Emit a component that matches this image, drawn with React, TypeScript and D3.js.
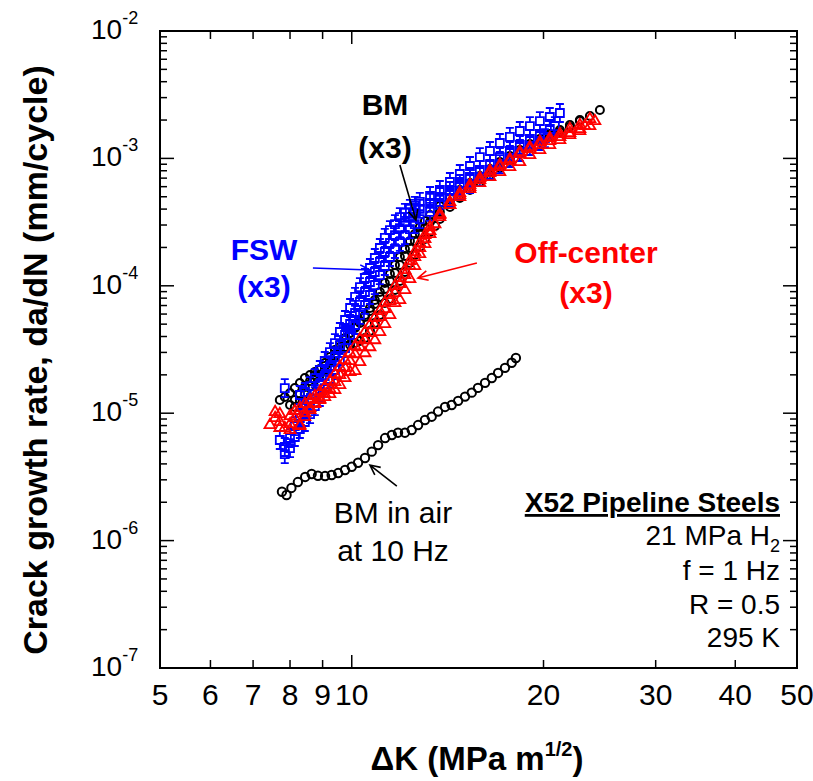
import * as d3 from "d3"

type Pt = [number, number]

// BM tested in air at 10 Hz
const bmAir: Pt[] = [
  [7.77, 2.42e-6], [7.90, 2.28e-6], [8.04, 2.59e-6], [8.23, 2.88e-6], [8.45, 3.16e-6], [8.65, 3.33e-6],
  [8.85, 3.23e-6], [9.08, 3.21e-6], [9.30, 3.27e-6], [9.52, 3.39e-6], [9.76, 3.58e-6], [10.0, 3.80e-6],
  [10.23, 4.08e-6], [10.49, 4.45e-6], [10.75, 4.99e-6], [11.0, 5.62e-6], [11.28, 6.38e-6], [11.56, 6.74e-6],
  [11.82, 7.03e-6], [12.12, 7.03e-6], [12.42, 7.38e-6], [12.71, 8.07e-6], [13.03, 8.84e-6], [13.35, 9.39e-6],
  [13.66, 1.03e-5], [14.01, 1.12e-5], [14.35, 1.16e-5], [14.69, 1.25e-5], [15.06, 1.35e-5], [15.43, 1.45e-5],
  [15.78, 1.58e-5], [16.19, 1.73e-5], [16.59, 1.89e-5], [16.97, 2.07e-5], [17.40, 2.27e-5], [17.83, 2.49e-5],
  [18.1, 2.71e-5],
]

// BM in 21 MPa H2, three tests
const bmA: Pt[] = [
  [7.71, 1.269e-5], [7.85, 1.340e-5], [8.00, 1.440e-5], [8.14, 1.576e-5], [8.29, 1.725e-5], [8.44, 1.888e-5],
  [8.60, 1.994e-5], [8.75, 2.105e-5], [8.91, 2.183e-5], [9.07, 2.346e-5], [9.24, 2.568e-5], [9.41, 2.911e-5],
  [9.58, 3.304e-5], [9.76, 3.75e-5], [9.94, 4.262e-5], [10.12, 4.749e-5], [10.30, 5.293e-5], [10.49, 5.902e-5],
  [10.68, 6.695e-5], [10.87, 7.74e-5], [11.07, 8.941e-5], [11.27, 1.051e-4], [11.48, 1.237e-4], [11.69, 1.456e-4],
  [11.90, 1.683e-4], [12.12, 1.945e-4], [12.34, 2.249e-4], [12.56, 2.548e-4], [12.79, 2.890e-4], [13.03, 3.221e-4],
  [13.27, 3.600e-4], [13.75, 4.234e-4], [14.26, 4.887e-4], [14.78, 5.65e-4], [15.33, 6.411e-4], [15.89, 7.275e-4],
  [16.48, 8.26e-4], [17.08, 9.365e-4], [17.71, 1.044e-3], [18.36, 1.164e-3], [19.04, 1.297e-3], [19.74, 1.421e-3],
  [20.46, 1.554e-3],
]
const bmB: Pt[] = [
  [8.14, 1.118e-5], [8.29, 1.246e-5], [8.44, 1.415e-5], [8.60, 1.634e-5], [8.75, 1.822e-5], [8.91, 1.994e-5],
  [9.07, 2.183e-5], [9.24, 2.476e-5], [9.41, 2.808e-5], [9.58, 3.13e-5], [9.76, 3.304e-5], [9.94, 3.426e-5],
  [10.12, 3.551e-5], [10.30, 3.683e-5], [10.49, 3.893e-5], [10.68, 4.419e-5], [10.87, 5.104e-5], [11.07, 5.902e-5],
  [11.27, 7.330e-5], [11.48, 7.882e-5], [11.69, 9.27e-5], [11.90, 1.090e-4], [12.12, 1.283e-4], [12.34, 1.510e-4],
  [12.56, 1.745e-4], [12.79, 2.017e-4], [13.03, 2.332e-4], [13.27, 2.643e-4], [13.51, 2.942e-4], [13.75, 3.340e-4],
  [14.26, 4.161e-4], [14.78, 4.887e-4], [15.33, 5.65e-4], [15.89, 6.530e-4], [16.48, 7.409e-4], [17.08, 8.409e-4],
  [17.71, 9.535e-4], [18.36, 1.083e-3], [19.04, 1.207e-3], [19.74, 1.345e-3], [20.46, 1.473e-3], [21.22, 1.612e-3],
  [22.00, 1.765e-3], [22.81, 1.965e-3], [23.65, 2.152e-3], [24.52, 2.398e-3],
]
const bmC: Pt[] = [
  [8.00, 1.159e-5], [8.14, 1.269e-5], [8.29, 1.415e-5], [8.44, 1.605e-5], [8.60, 1.789e-5], [8.75, 1.994e-5],
  [8.91, 2.223e-5], [9.07, 2.476e-5], [9.24, 2.758e-5], [9.41, 3.13e-5], [9.58, 3.488e-5], [9.76, 3.893e-5],
  [9.94, 4.262e-5], [10.12, 4.666e-5], [10.30, 5.104e-5], [10.49, 5.692e-5], [10.68, 6.344e-5], [10.87, 7.198e-5],
  [11.07, 8.173e-5], [11.27, 9.440e-5], [11.48, 1.090e-4], [11.69, 1.260e-4], [11.90, 1.456e-4], [12.12, 1.713e-4],
  [12.34, 1.981e-4], [12.56, 2.249e-4], [12.79, 2.548e-4], [13.03, 2.841e-4], [13.27, 3.164e-4], [13.75, 3.800e-4],
  [14.26, 4.470e-4], [14.78, 5.162e-4], [15.33, 5.964e-4], [15.89, 6.894e-4], [16.48, 7.822e-4], [17.08, 8.877e-4],
  [17.71, 1.007e-3], [18.36, 1.123e-3], [19.04, 1.251e-3], [19.74, 1.395e-3], [20.46, 1.527e-3], [21.22, 1.671e-3],
  [22.00, 1.828e-3], [22.81, 2.001e-3],
]

// FSW in H2, three tests
const fswA: Pt[] = [
  [7.85, 1.576e-5], [8.29, 1.390e-5], [8.44, 1.467e-5], [8.60, 1.634e-5], [8.75, 1.888e-5], [8.91, 2.183e-5],
  [9.07, 2.568e-5], [9.24, 3.019e-5], [9.41, 3.551e-5], [9.58, 4.340e-5], [9.76, 5.39e-5], [9.94, 6.695e-5],
  [10.12, 8.173e-5], [10.30, 9.779e-5], [10.49, 1.151e-4], [10.68, 1.379e-4], [10.87, 1.653e-4], [11.07, 1.981e-4],
  [11.27, 2.374e-4], [11.48, 2.74e-4], [11.69, 3.050e-4], [11.90, 3.464e-4], [12.12, 3.731e-4], [12.34, 4.012e-4],
  [12.56, 4.234e-4], [12.79, 4.552e-4], [13.27, 5.068e-4], [13.75, 5.65e-4], [14.26, 6.530e-4], [14.78, 7.542e-4],
  [15.33, 8.720e-4], [15.89, 1.025e-3], [16.48, 1.143e-3], [17.08, 1.321e-3], [17.71, 1.473e-3], [18.36, 1.641e-3],
  [19.04, 1.795e-3], [19.74, 1.965e-3], [20.46, 2.113e-3], [21.22, 2.271e-3],
]
const fswB: Pt[] = [
  [7.71, 6.16e-6], [7.85, 5.427e-6], [8.00, 6.387e-6], [8.14, 7.930e-6], [8.29, 9.165e-6], [8.44, 1.040e-5],
  [8.60, 1.202e-5], [8.75, 1.415e-5], [8.91, 1.665e-5], [9.07, 1.958e-5], [9.24, 2.305e-5], [9.41, 2.758e-5],
  [9.58, 3.426e-5], [9.76, 4.111e-5], [9.94, 5.013e-5], [10.12, 6.118e-5], [10.30, 7.465e-5], [10.49, 8.941e-5],
  [10.68, 1.071e-4], [10.87, 1.283e-4], [11.07, 1.537e-4], [11.27, 1.842e-4], [11.48, 2.169e-4], [11.69, 2.503e-4],
  [11.90, 2.841e-4], [12.12, 3.164e-4], [12.34, 3.464e-4], [12.56, 3.731e-4], [12.79, 4.012e-4], [13.27, 4.470e-4],
  [13.75, 4.978e-4], [14.26, 5.548e-4], [14.78, 6.296e-4], [15.33, 7.145e-4], [15.89, 8.11e-4], [16.48, 9.030e-4],
  [17.08, 1.025e-3], [17.71, 1.143e-3], [18.36, 1.274e-3], [19.04, 1.421e-3], [19.74, 1.554e-3], [20.46, 1.702e-3],
  [20.84, 1.795e-3],
]
const fswC: Pt[] = [
  [7.85, 4.780e-6], [8.00, 5.328e-6], [8.14, 6.505e-6], [8.29, 7.515e-6], [8.44, 8.526e-6], [8.60, 9.849e-6],
  [8.75, 1.138e-5], [8.91, 1.340e-5], [9.07, 1.576e-5], [9.24, 1.855e-5], [9.41, 2.183e-5], [9.58, 2.568e-5],
  [9.76, 3.245e-5], [9.94, 4.111e-5], [10.12, 4.924e-5], [10.30, 5.902e-5], [10.49, 7.074e-5], [10.68, 8.469e-5],
  [10.87, 1.014e-4], [11.07, 1.215e-4], [11.27, 1.430e-4], [11.48, 1.683e-4], [11.69, 1.945e-4], [11.90, 2.209e-4],
  [12.12, 2.503e-4], [12.34, 2.790e-4], [12.56, 3.050e-4], [12.79, 3.340e-4], [13.27, 3.800e-4], [13.75, 4.312e-4],
  [14.26, 4.887e-4], [14.78, 5.548e-4], [15.33, 6.296e-4], [15.89, 7.145e-4], [16.48, 8.11e-4], [17.08, 9.030e-4],
  [17.71, 1.007e-3], [18.36, 1.123e-3], [19.04, 1.251e-3], [19.74, 1.370e-3], [20.10, 1.445e-3],
]

// Off-center weld in H2, three tests
const ocA: Pt[] = [
  [7.44, 8.076e-6], [7.58, 1.021e-5], [7.71, 8.526e-6], [7.85, 7.652e-6], [8.00, 8.221e-6], [8.14, 9.165e-6],
  [8.29, 8.076e-6], [8.44, 9.335e-6], [8.60, 1.059e-5], [8.75, 1.180e-5], [8.91, 1.292e-5], [9.07, 1.415e-5],
  [9.24, 1.549e-5], [9.41, 1.757e-5], [9.58, 1.994e-5], [9.76, 2.263e-5], [9.94, 2.568e-5], [10.12, 2.911e-5],
  [10.30, 3.304e-5], [10.49, 3.75e-5], [10.68, 4.262e-5], [10.87, 4.924e-5], [11.07, 5.692e-5], [11.27, 6.578e-5],
  [11.48, 7.601e-5], [11.69, 8.779e-5], [11.90, 1.032e-4], [12.12, 1.215e-4], [12.34, 1.430e-4], [12.56, 1.683e-4],
  [12.79, 1.981e-4], [13.03, 2.332e-4], [13.27, 2.691e-4], [13.75, 3.464e-4], [14.26, 4.312e-4], [14.78, 5.162e-4],
  [15.33, 5.964e-4], [15.89, 6.77e-4], [16.48, 7.680e-4], [17.08, 8.564e-4], [17.71, 9.535e-4], [18.36, 1.123e-3],
  [19.04, 1.229e-3], [19.74, 1.345e-3], [20.46, 1.445e-3], [21.22, 1.554e-3], [22.00, 1.702e-3], [22.81, 1.828e-3],
  [23.65, 2.038e-3],
]
const ocB: Pt[] = [
  [7.71, 7.652e-6], [8.00, 7.38e-6], [8.29, 7.930e-6], [8.44, 1.003e-5], [8.60, 1.098e-5], [8.75, 1.202e-5],
  [8.91, 1.269e-5], [9.07, 1.340e-5], [9.24, 1.415e-5], [9.41, 1.521e-5], [9.58, 1.665e-5], [9.76, 1.888e-5],
  [9.94, 2.105e-5], [10.12, 2.144e-5], [10.30, 2.522e-5], [10.49, 2.964e-5], [10.68, 3.304e-5], [10.87, 3.75e-5],
  [11.07, 4.340e-5], [11.27, 5.013e-5], [11.48, 5.902e-5], [11.69, 7.330e-5], [11.90, 7.74e-5], [12.12, 9.27e-5],
  [12.34, 1.130e-4], [12.56, 1.430e-4], [12.79, 1.776e-4], [13.03, 2.130e-4], [13.27, 2.548e-4], [13.51, 3.050e-4],
  [13.75, 3.600e-4], [14.26, 4.312e-4], [14.78, 4.978e-4], [15.33, 5.754e-4], [15.89, 6.411e-4], [16.48, 7.145e-4],
  [17.08, 7.822e-4], [17.71, 8.564e-4], [18.36, 9.365e-4], [19.04, 1.063e-3], [19.74, 1.164e-3], [20.46, 1.274e-3],
  [21.22, 1.395e-3], [22.00, 1.527e-3], [22.81, 1.641e-3], [23.65, 1.795e-3], [24.08, 1.965e-3],
]
const ocC: Pt[] = [
  [7.58, 9.165e-6], [7.71, 9.849e-6], [8.00, 9.499e-6], [8.14, 1.040e-5], [8.29, 1.098e-5], [8.44, 1.180e-5],
  [8.60, 1.269e-5], [8.75, 1.364e-5], [8.91, 1.467e-5], [9.07, 1.605e-5], [9.24, 1.789e-5], [9.41, 2.030e-5],
  [9.58, 2.305e-5], [9.76, 2.615e-5], [9.94, 2.964e-5], [10.12, 3.364e-5], [10.30, 3.819e-5], [10.49, 4.340e-5],
  [10.68, 4.924e-5], [10.87, 5.588e-5], [11.07, 6.344e-5], [11.27, 7.330e-5], [11.48, 8.469e-5], [11.69, 9.957e-5],
  [11.90, 1.151e-4], [12.12, 1.330e-4], [12.34, 1.565e-4], [12.56, 1.842e-4], [12.79, 2.169e-4], [13.03, 2.503e-4],
  [13.27, 2.890e-4], [13.75, 3.664e-4], [14.26, 4.552e-4], [14.78, 5.351e-4], [15.33, 6.185e-4], [15.89, 7.019e-4],
  [16.48, 7.964e-4], [17.08, 8.877e-4], [17.71, 9.888e-4], [18.36, 1.083e-3], [19.04, 1.185e-3], [19.74, 1.274e-3],
  [20.46, 1.370e-3], [21.22, 1.473e-3], [22.00, 1.582e-3], [22.81, 1.702e-3], [23.22, 1.795e-3],
]

const xTickLabels = [5, 6, 7, 8, 9, 10, 20, 30, 40, 50]
const yExponents = [-7, -6, -5, -4, -3, -2]
const conditions = ["21 MPa H", "f = 1 Hz", "R = 0.5", "295 K"]

// arrows: [tail, head] in data units
const arrowBM: [Pt, Pt] = [[11.90, 8.88e-4], [12.61, 3.28e-4]]
const arrowFSW: [Pt, Pt] = [[8.69, 1.38e-4], [10.68, 1.33e-4]]
const arrowOC: [Pt, Pt] = [[15.72, 1.51e-4], [12.70, 1.15e-4]]
const arrowAir: [Pt, Pt] = [[11.77, 2.68e-6], [10.68, 3.92e-6]]

const FONT = "'Liberation Sans', Arial, Helvetica, sans-serif"
const BLUE = "#0000ff"
const RED = "#ff0000"

export default function App() {
  const width = 813
  const height = 781
  const margin = { top: 31, right: 16, bottom: 113, left: 160 }

  const x = d3.scaleLog().domain([5, 50]).range([margin.left, width - margin.right])
  const y = d3.scaleLog().domain([1e-7, 1e-2]).range([height - margin.bottom, margin.top])
  const [x0, x1] = x.range()
  const [y0, y1] = y.range() // y0 bottom, y1 top

  const tri = d3.symbol().type(d3.symbolTriangle).size(52)()

  const xMinor = [6, 7, 8, 9, 20, 30, 40]
  const yMinor: number[] = []
  yExponents.slice(0, -1).forEach(e => {
    for (let m = 2; m <= 9; m++) yMinor.push(m * Math.pow(10, e))
  })

  const arrow = ([t, h]: [Pt, Pt], color: string) => {
    const tx = x(t[0]), ty = y(t[1]), hx = x(h[0]), hy = y(h[1])
    const a = Math.atan2(hy - ty, hx - tx)
    const L = 11, s = 0.45
    const p1 = [hx - L * Math.cos(a - s), hy - L * Math.sin(a - s)]
    const p2 = [hx - L * Math.cos(a + s), hy - L * Math.sin(a + s)]
    return (
      <path
        d={`M${tx},${ty}L${hx},${hy}M${p1[0]},${p1[1]}L${hx},${hy}L${p2[0]},${p2[1]}`}
        fill="none" stroke={color} strokeWidth={1.6}
      />
    )
  }

  const circles = (data: Pt[], key: string, r: number) =>
    data.map((d, i) => (
      <circle key={key + i} cx={x(d[0])} cy={y(d[1])} r={r} fill="none" stroke="#000" strokeWidth={2} />
    ))

  const squares = (data: Pt[], key: string) =>
    data.map((d, i) => {
      const cx = x(d[0]), cy = y(d[1])
      return (
        <path
          key={key + i}
          d={`M${cx - 4},${cy - 4}h8v8h-8z M${cx},${cy - 4}V${cy - 9} M${cx - 4},${cy - 9}h8 M${cx},${cy + 4}V${cy + 9} M${cx - 4},${cy + 9}h8`}
          fill="none" stroke={BLUE} strokeWidth={1.8}
        />
      )
    })

  const triangles = (data: Pt[], key: string) =>
    data.map((d, i) => (
      <path key={key + i} d={tri!} transform={`translate(${x(d[0])},${y(d[1])})`}
        fill="none" stroke={RED} strokeWidth={1.8} />
    ))

  return (
    <svg width={width} height={height} viewBox={`0 0 ${width} ${height}`}
      style={{ position: "absolute", left: 0, top: 0, display: "block", background: "#fff" }}
      fontFamily={FONT}>
      {/* data */}
      {circles(bmAir, "air", 4.2)}
      {circles(bmA, "ba", 4)}
      {circles(bmC, "bc", 4)}
      {circles(bmB, "bb", 4)}
      {squares(fswC, "fc")}
      {squares(fswB, "fb")}
      {squares(fswA, "fa")}
      {triangles(ocB, "ob")}
      {triangles(ocC, "oc")}
      {triangles(ocA, "oa")}

      {/* frame */}
      <rect x={x0} y={y1} width={x1 - x0} height={y0 - y1} fill="none" stroke="#000" strokeWidth={2} />

      {/* x ticks (bottom and top, inward) */}
      {xMinor.map(v => (
        <g key={"xm" + v} stroke="#000" strokeWidth={1.5}>
          <line x1={x(v)} x2={x(v)} y1={y0} y2={y0 - 8} />
          <line x1={x(v)} x2={x(v)} y1={y1} y2={y1 + 8} />
        </g>
      ))}
      <g stroke="#000" strokeWidth={1.5}>
        <line x1={x(10)} x2={x(10)} y1={y0} y2={y0 - 13} />
        <line x1={x(10)} x2={x(10)} y1={y1} y2={y1 + 13} />
      </g>
      {xTickLabels.map(v => (
        <text key={"xl" + v} x={x(v)} y={705} fontSize={30} textAnchor="middle">{v}</text>
      ))}

      {/* y ticks (left and right, inward) */}
      {yMinor.map((v, i) => (
        <g key={"ym" + i} stroke="#000" strokeWidth={1.5}>
          <line x1={x0} x2={x0 + 7} y1={y(v)} y2={y(v)} />
          <line x1={x1} x2={x1 - 7} y1={y(v)} y2={y(v)} />
        </g>
      ))}
      {yExponents.map(e => (
        <g key={"yM" + e} stroke="#000" strokeWidth={1.5}>
          <line x1={x0} x2={x0 + 14} y1={y(Math.pow(10, e))} y2={y(Math.pow(10, e))} />
          <line x1={x1} x2={x1 - 14} y1={y(Math.pow(10, e))} y2={y(Math.pow(10, e))} />
        </g>
      ))}
      {yExponents.map(e => (
        <text key={"yl" + e} x={91} y={y(Math.pow(10, e)) + 8} fontSize={28}>
          10<tspan fontSize={18} dy={-15}>{String(e)}</tspan>
        </text>
      ))}

      {/* axis titles */}
      <text transform={`translate(47,360) rotate(-90)`} textAnchor="middle" fontSize={34} fontWeight="bold">
        Crack growth rate, da/dN (mm/cycle)
      </text>
      <text x={477} y={770} textAnchor="middle" fontSize={33} fontWeight="bold">
        ΔK (MPa m<tspan fontSize={20} dy={-14}>1/2</tspan><tspan dy={14}>)</tspan>
      </text>

      {/* annotations */}
      <g fontWeight="bold" fontSize={30} textAnchor="middle">
        <text x={385} y={115}>BM</text>
        <text x={385} y={158}>(x3)</text>
        <text x={264} y={260} fill={BLUE}>FSW</text>
        <text x={264} y={297} fill={BLUE}>(x3)</text>
        <text x={586} y={263} fill={RED}>Off-center</text>
        <text x={586} y={303} fill={RED}>(x3)</text>
      </g>
      {arrow(arrowBM, "#000")}
      {arrow(arrowFSW, BLUE)}
      {arrow(arrowOC, RED)}
      {arrow(arrowAir, "#000")}
      <g fontSize={30} textAnchor="middle">
        <text x={393} y={523}>BM in air</text>
        <text x={393} y={561}>at 10 Hz</text>
      </g>

      <g textAnchor="end" fontSize={28}>
        <text x={780} y={512} fontWeight="bold" textDecoration="underline">X52 Pipeline  Steels</text>
        <text x={780} y={545}>{conditions[0]}<tspan fontSize={18} dy={7}>2</tspan></text>
        {conditions.slice(1).map((c, i) => (
          <text key={c} x={780} y={580 + i * 33.5}>{c}</text>
        ))}
      </g>
    </svg>
  )
}
